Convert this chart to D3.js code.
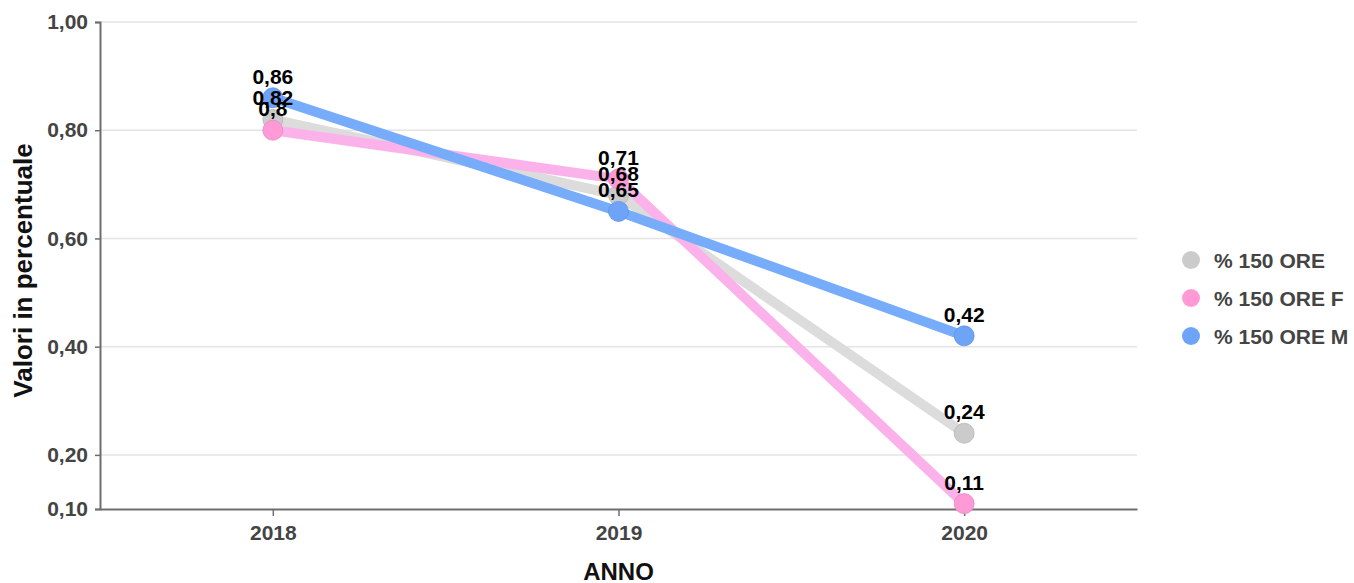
<!DOCTYPE html>
<html>
<head>
<meta charset="utf-8">
<script src="https://cdn.jsdelivr.net/npm/d3@7"></script>
<style>
  html, body { margin: 0; padding: 0; background: #fff; }
  svg { display: block; font-family: "Liberation Sans", Arial, Helvetica, sans-serif; }
</style>
</head>
<body>
<svg id="chart" width="1354" height="583"></svg>
<script>
// Anni sull'asse X
const years = ["2018", "2019", "2020"];
// Serie: percentuale 150 ore (totale, femmine, maschi)
const seriesNames = ["% 150 ORE", "% 150 ORE F", "% 150 ORE M"];
const valuesTot = [0.82, 0.68, 0.24];
const valuesF = [0.8, 0.71, 0.11];
const valuesM = [0.86, 0.65, 0.42];
// Tacche dell'asse Y
const yTicks = [0.1, 0.2, 0.4, 0.6, 0.8, 1.0];

const markerColors = ["#cbcbcb", "#ff9ad6", "#6ea4f8"];
const lineColors = ["#dcdcdc", "#fbb2ea", "#77acfa"];

const series = [valuesTot, valuesF, valuesM].map((vals, i) => ({
  name: seriesNames[i],
  points: vals.map((v, j) => ({ year: years[j], value: v })),
  marker: markerColors[i],
  line: lineColors[i]
}));

const svg = d3.select("#chart");
const plotLeft = 100, plotRight = 1137, plotTop = 22, plotBottom = 509;

const x = d3.scalePoint().domain(years).range([plotLeft, plotRight]).padding(0.5);
const y = d3.scaleLinear().domain([0.1, 1.0]).range([plotBottom, plotTop]);

const fmtTick = d => d.toFixed(2).replace(".", ",");
const fmtLabel = d => String(d).replace(".", ",");

// Griglia orizzontale
svg.append("g")
  .selectAll("line")
  .data(yTicks.filter(t => t > 0.1))
  .join("line")
  .attr("x1", plotLeft).attr("x2", plotRight)
  .attr("y1", d => y(d)).attr("y2", d => y(d))
  .attr("stroke", "#e4e4e4")
  .attr("stroke-width", 1.5);

// Asse Y
const yAxis = svg.append("g")
  .attr("transform", `translate(${plotLeft},0)`)
  .call(d3.axisLeft(y).tickValues(yTicks).tickFormat(fmtTick).tickSize(5).tickPadding(7));
yAxis.select(".domain").attr("stroke", "#6e6e6e").attr("stroke-width", 2);
yAxis.selectAll(".tick line").attr("stroke", "#6e6e6e").attr("stroke-width", 1.5);
yAxis.selectAll(".tick text")
  .attr("fill", "#444").attr("font-size", 21).attr("font-weight", "bold")
  .attr("font-family", "Liberation Sans, Arial, sans-serif");

// Asse X
const xAxis = svg.append("g")
  .attr("transform", `translate(0,${plotBottom})`)
  .call(d3.axisBottom(x).tickSize(7).tickPadding(9).tickSizeOuter(0));
xAxis.select(".domain").attr("stroke", "#6e6e6e").attr("stroke-width", 2);
xAxis.selectAll(".tick line").attr("stroke", "#6e6e6e").attr("stroke-width", 1.5);
xAxis.selectAll(".tick text")
  .attr("fill", "#444").attr("font-size", 21).attr("font-weight", "bold")
  .attr("font-family", "Liberation Sans, Arial, sans-serif");

// Titoli degli assi
svg.append("text")
  .attr("x", (plotLeft + plotRight) / 2).attr("y", 580)
  .attr("text-anchor", "middle")
  .attr("font-size", 24).attr("font-weight", "bold").attr("fill", "#111")
  .text("ANNO");
svg.append("text")
  .attr("transform", `translate(32,${(plotTop + plotBottom) / 2 + 5}) rotate(-90)`)
  .attr("text-anchor", "middle")
  .attr("font-size", 26).attr("font-weight", "bold").attr("fill", "#111")
  .text("Valori in percentuale");

// Linee
const line = d3.line().x(d => x(d.year)).y(d => y(d.value));
const gSeries = svg.append("g");
series.forEach(s => {
  gSeries.append("path")
    .datum(s.points)
    .attr("d", line)
    .attr("fill", "none")
    .attr("stroke", s.line)
    .attr("stroke-width", 10)
    .attr("stroke-linejoin", "round")
    .attr("stroke-linecap", "round");
});

// Marcatori
series.forEach(s => {
  gSeries.append("g")
    .selectAll("circle")
    .data(s.points)
    .join("circle")
    .attr("cx", d => x(d.year))
    .attr("cy", d => y(d.value))
    .attr("r", 10)
    .attr("fill", s.marker)
    .attr("stroke", d3.color(s.marker).darker(0.3))
    .attr("stroke-width", 0.8);
});

// Etichette dei valori
series.forEach(s => {
  gSeries.append("g")
    .selectAll("text")
    .data(s.points)
    .join("text")
    .attr("x", d => x(d.year))
    .attr("y", d => y(d.value) - 14)
    .attr("text-anchor", "middle")
    .attr("font-size", 21).attr("font-weight", "bold").attr("fill", "#000")
    .text(d => fmtLabel(d.value));
});

// Legenda
const legend = svg.append("g");
series.forEach((s, i) => {
  const cy = 260 + i * 38;
  legend.append("circle")
    .attr("cx", 1191).attr("cy", cy).attr("r", 9)
    .attr("fill", s.marker);
  legend.append("text")
    .attr("x", 1214).attr("y", cy)
    .attr("dy", "0.36em")
    .attr("font-size", 21).attr("font-weight", "bold").attr("fill", "#444")
    .text(s.name);
});
</script>
</body>
</html>
